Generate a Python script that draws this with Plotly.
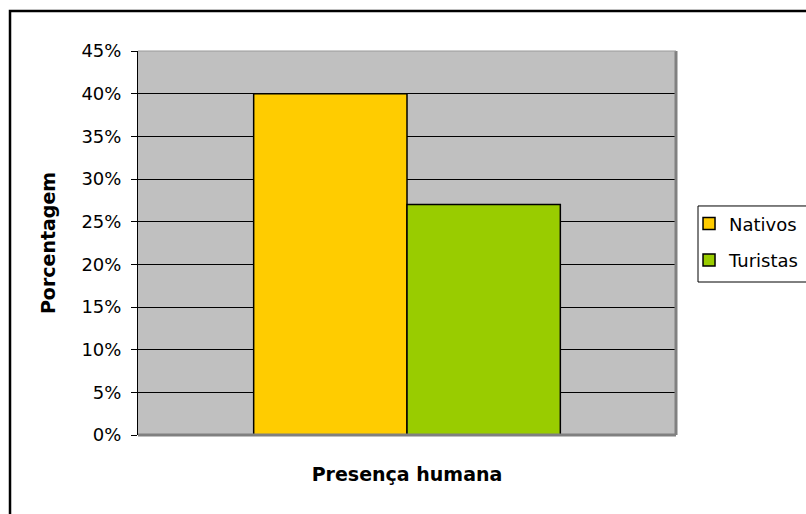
import plotly.graph_objects as go

# Data
categoria = ["Presença humana"]
series = ["Nativos", "Turistas"]
valores = [40, 27]          # percent
cores = ["#FFCC00", "#99CC00"]
ticks_y = [0, 5, 10, 15, 20, 25, 30, 35, 40, 45]
ticks_txt = [f"{t}%" for t in ticks_y]

FONT = "DejaVu Sans, Arial, sans-serif"

fig = go.Figure()
for i, (nome, v, c) in enumerate(zip(series, valores, cores)):
    fig.add_trace(go.Bar(
        name=nome, x=categoria, y=[v], legendgroup=f"g{i}",
        marker=dict(color=c, line=dict(color="black", width=1.5)),
    ))

fig.update_layout(
    width=806, height=514,
    margin=dict(l=138, r=130, t=51, b=79, autoexpand=False),
    paper_bgcolor="white",
    plot_bgcolor="#C0C0C0",
    barmode="group",
    bargap=0.43, bargroupgap=0,
    font=dict(family=FONT, color="black"),
    showlegend=True,
    legend=dict(
        x=1.0242, y=0.598, xanchor="left", yanchor="top",
        borderwidth=0, bgcolor="rgba(0,0,0,0)",
        font=dict(size=18, family=FONT),
        tracegroupgap=10,
    ),
    xaxis=dict(
        showticklabels=False, ticks="",
        title=dict(text="<b>Presença humana</b>", font=dict(size=19), standoff=32),
        showgrid=False, zeroline=False,
    ),
    yaxis=dict(
        range=[0, 45], tickvals=ticks_y, ticktext=ticks_txt,
        tickfont=dict(size=18), ticklabelstandoff=6,
        ticks="outside", ticklen=6, tickcolor="black",
        showline=True, linecolor="black", linewidth=1,
        showgrid=True, gridcolor="black", gridwidth=1,
        zeroline=False,
        title=dict(text="<b>Porcentagem</b>", font=dict(size=19), standoff=20),
    ),
)

# shaded right and bottom edges of the plot area
fig.add_shape(type="line", xref="paper", yref="paper", x0=1, x1=1, y0=0, y1=1,
              line=dict(color="#808080", width=3))
fig.add_shape(type="line", xref="paper", yref="paper", x0=0, x1=1, y0=0, y1=0,
              line=dict(color="#808080", width=3))
fig.add_shape(type="line", xref="paper", yref="paper", x0=0, x1=1, y0=1, y1=1,
              line=dict(color="#999999", width=1))

# legend frame
fig.add_shape(type="rect", xref="paper", yref="paper",
              x0=1.0409, x1=1.26, y0=0.3984, y1=0.5964,
              line=dict(color="black", width=1), layer="below")

# outer chart frame
fig.add_shape(type="rect", xref="paper", yref="paper",
              x0=-0.2379, x1=1.26, y0=-0.3, y1=1.104,
              line=dict(color="black", width=2.5), layer="below")

fig.write_html("out.html")
